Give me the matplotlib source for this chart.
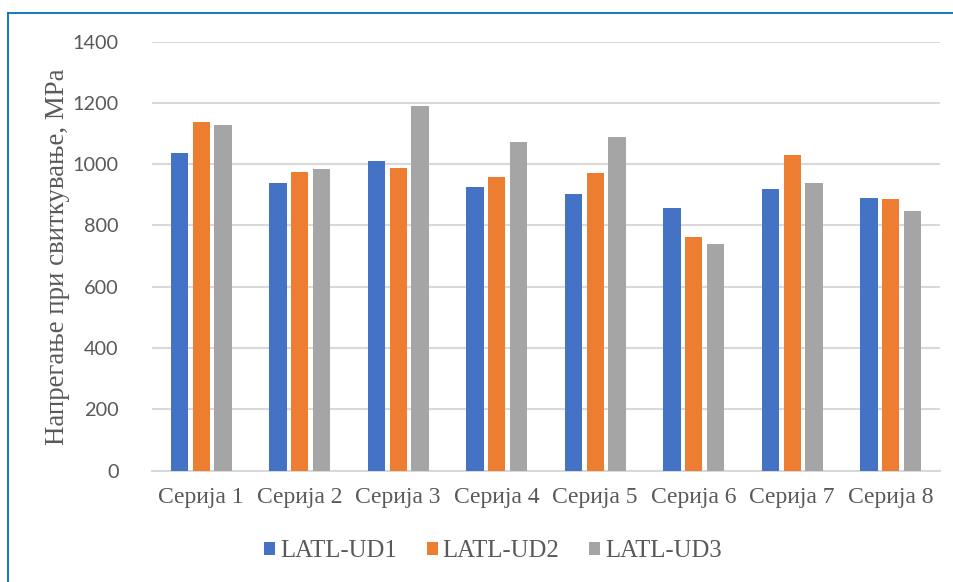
import numpy as np
import matplotlib
matplotlib.use("Agg")
import matplotlib.pyplot as plt
from matplotlib.lines import Line2D

categories = ["Серија 1", "Серија 2", "Серија 3", "Серија 4",
              "Серија 5", "Серија 6", "Серија 7", "Серија 8"]
series_names = ["LATL-UD1", "LATL-UD2", "LATL-UD3"]
ud1 = [1036, 940, 1011, 926, 903, 857, 920, 891]
ud2 = [1138, 975, 989, 959, 972, 763, 1029, 888]
ud3 = [1127, 983, 1191, 1074, 1088, 741, 938, 848]
yticks = [0, 200, 400, 600, 800, 1000, 1200, 1400]

colors = ["#4472C4", "#ED7D31", "#A5A5A5"]
serif = ["Liberation Serif", "DejaVu Serif"]
text_gray = "#595959"

fig = plt.figure(figsize=(9.54, 5.82), dpi=100)
ax = fig.add_axes([152 / 954, 1 - 470.5 / 582, (940 - 152) / 954, (470.5 - 41.7) / 582])

x = np.arange(len(categories))
step = 0.221
width = 0.176
for i, (vals, name, c) in enumerate(zip([ud1, ud2, ud3], series_names, colors)):
    ax.bar(x + (i - 1) * step, vals, width=width, color=c, label=name, zorder=3)

ax.set_xlim(-0.5, len(categories) - 0.5)
ax.set_ylim(0, 1400)
ax.set_yticks(yticks)
ax.set_yticklabels([str(v) for v in yticks], fontfamily="Lato", fontsize=14.3, color=text_gray)
ax.set_xticks(x)
ax.set_xticklabels(categories, fontfamily=serif, fontsize=17, color=text_gray)
ax.tick_params(axis="both", length=0)
ax.tick_params(axis="y", pad=24)
ax.tick_params(axis="x", pad=12)

ax.grid(axis="y", color="#D9D9D9", linewidth=1.5, zorder=0)
for s in ["top", "right", "left"]:
    ax.spines[s].set_visible(False)
ax.spines["bottom"].set_color("#D9D9D9")
ax.spines["bottom"].set_linewidth(1.5)

fig.text(58 / 954, 1 - 257 / 582, "Напрегање при свиткување, МРа", rotation=90,
         ha="center", va="center", fontfamily=serif, fontsize=19.4, color=text_gray)

leg = fig.legend(loc="center", bbox_to_anchor=(493 / 954, 1 - 551 / 582), ncol=3,
                 frameon=False, prop={"family": serif, "size": 17.8},
                 handlelength=0.45, handleheight=0.45, handletextpad=0.2,
                 columnspacing=1.2, borderpad=0)
for t in leg.get_texts():
    t.set_color(text_gray)

# chart frame edges
fig.add_artist(Line2D([8 / 954, 8 / 954], [0, 1 - 12.7 / 582], color="#0070C0",
                      linewidth=1.3, transform=fig.transFigure))
fig.add_artist(Line2D([8 / 954, 1], [1 - 12.7 / 582, 1 - 12.7 / 582], color="#0070C0",
                      linewidth=1.3, transform=fig.transFigure))

fig.savefig("out.png", dpi=100, facecolor="white")
